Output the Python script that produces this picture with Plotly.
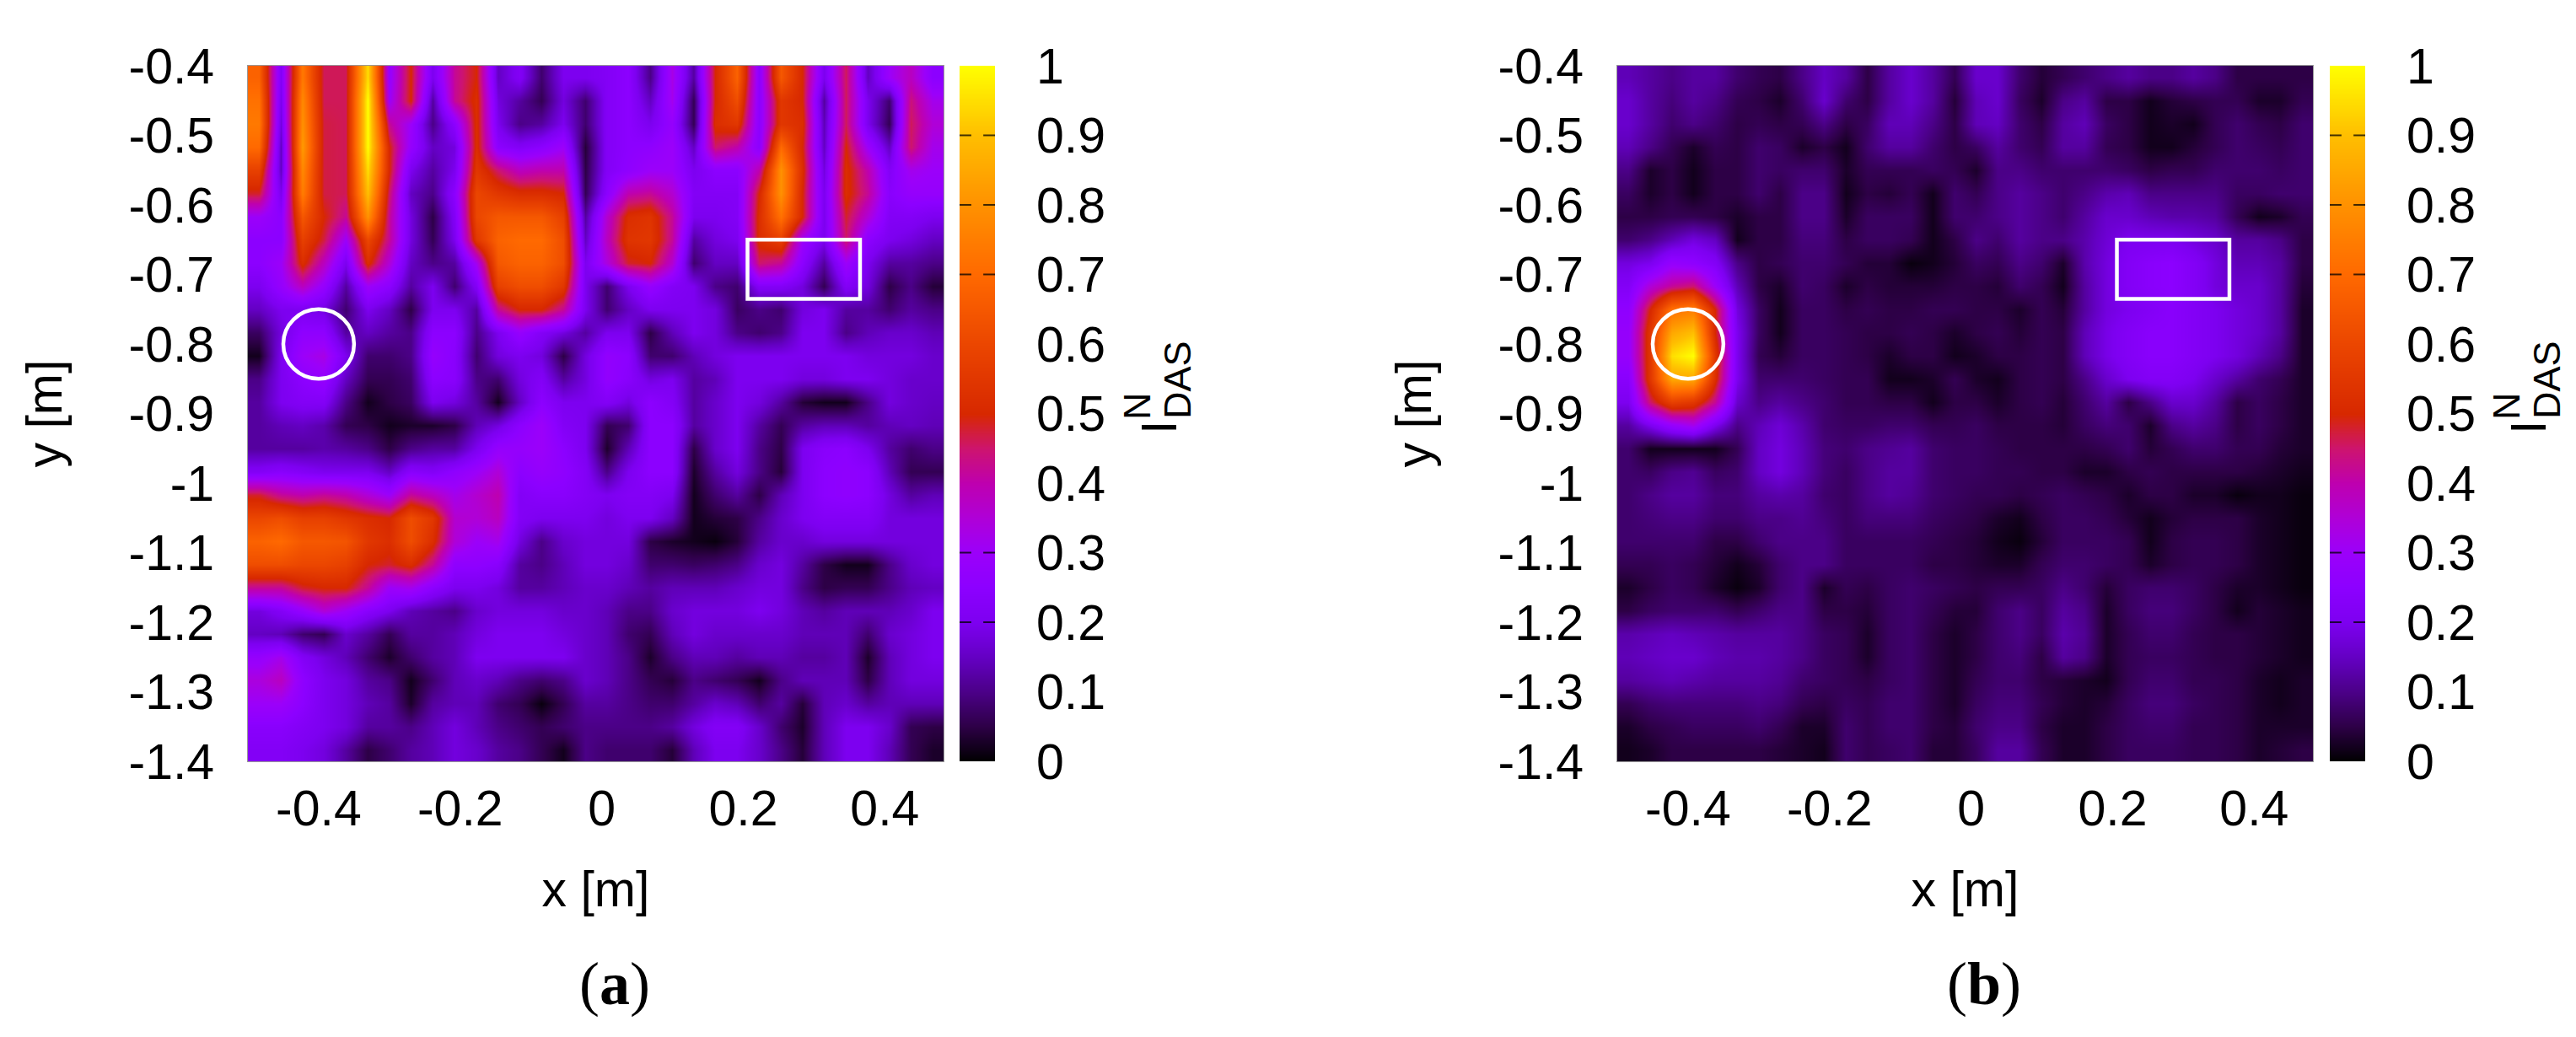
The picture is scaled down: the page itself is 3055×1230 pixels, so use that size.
import plotly.graph_objects as go

A = [
[.68,.22,.74,.46,.46,.95,.28,.5,.2,.42,.5,.15,.22,.08,.2,.2,.22,.25,.1,.33,.12,.5,.68,.25,.65,.5,.2,.46,.15,.3,.38,.25],
[.72,.2,.78,.46,.46,1,.3,.5,.12,.42,.52,.18,.12,.06,.18,.08,.22,.25,.15,.32,.06,.5,.62,.25,.55,.5,.12,.46,.2,.08,.44,.32],
[.74,.18,.8,.47,.46,1,.42,.3,.1,.25,.52,.2,.1,.12,.2,.08,.22,.25,.2,.28,.06,.52,.55,.25,.55,.52,.14,.46,.2,.06,.46,.35],
[.7,.15,.82,.47,.46,1,.5,.28,.15,.18,.52,.25,.22,.25,.3,.04,.22,.25,.26,.3,.15,.45,.4,.25,.7,.5,.15,.5,.3,.15,.45,.32],
[.58,.15,.78,.47,.46,.95,.5,.2,.12,.2,.55,.45,.38,.4,.4,.05,.22,.26,.3,.3,.2,.25,.25,.4,.8,.52,.18,.52,.4,.22,.32,.3],
[.48,.2,.75,.47,.46,.9,.45,.15,.1,.25,.6,.55,.52,.52,.5,.06,.25,.4,.42,.36,.22,.22,.22,.5,.8,.5,.2,.52,.42,.24,.28,.28],
[.3,.25,.65,.5,.42,.8,.42,.18,.05,.22,.6,.65,.65,.65,.58,.12,.36,.52,.54,.42,.2,.2,.22,.52,.72,.5,.2,.48,.35,.22,.22,.2],
[.25,.25,.58,.47,.3,.6,.42,.18,.06,.2,.55,.68,.7,.7,.62,.15,.38,.54,.55,.42,.12,.18,.2,.52,.58,.3,.2,.45,.25,.2,.18,.15],
[.25,.3,.52,.38,.2,.52,.35,.15,.1,.12,.32,.65,.68,.68,.62,.2,.34,.48,.5,.36,.08,.15,.15,.45,.42,.25,.12,.3,.2,.12,.12,.1],
[.2,.28,.38,.28,.12,.3,.25,.12,.2,.08,.22,.58,.62,.62,.55,.2,.08,.2,.28,.22,.2,.1,.08,.22,.22,.18,.06,.22,.18,.05,.1,.04],
[.15,.2,.2,.18,.08,.2,.15,.05,.2,.2,.12,.42,.5,.5,.42,.2,.08,.15,.2,.2,.2,.18,.07,.1,.08,.18,.2,.12,.12,.08,.12,.1],
[.07,.18,.26,.26,.12,.15,.12,.1,.25,.25,.1,.2,.28,.22,.18,.12,.2,.2,.05,.14,.2,.18,.1,.08,.1,.2,.2,.1,.14,.16,.16,.14],
[.02,.2,.3,.33,.2,.08,.08,.1,.28,.24,.08,.18,.2,.18,.05,.18,.27,.25,.08,.08,.14,.18,.2,.2,.2,.2,.2,.2,.18,.18,.18,.16],
[.1,.2,.25,.28,.15,.06,.06,.08,.25,.24,.1,.08,.18,.22,.12,.18,.27,.24,.18,.2,.12,.14,.2,.2,.2,.18,.18,.2,.2,.18,.16,.16],
[.12,.2,.22,.22,.1,.02,.05,.07,.2,.18,.12,.02,.15,.25,.2,.2,.22,.18,.25,.22,.12,.16,.2,.18,.12,.04,.02,.02,.1,.18,.16,.15],
[.12,.14,.15,.13,.06,.05,.02,.03,.03,.05,.14,.18,.25,.3,.22,.2,.06,.08,.25,.25,.12,.16,.2,.12,.06,.12,.14,.14,.12,.14,.15,.14],
[.12,.12,.12,.13,.12,.1,.05,.1,.12,.12,.2,.28,.28,.3,.25,.2,.03,.14,.25,.25,.05,.16,.2,.1,.05,.2,.24,.25,.2,.12,.08,.1],
[.22,.24,.22,.2,.2,.2,.15,.24,.22,.26,.3,.35,.25,.28,.26,.22,.1,.2,.25,.25,.03,.12,.18,.1,.04,.2,.25,.26,.25,.14,.06,.06],
[.48,.42,.4,.42,.4,.35,.3,.42,.38,.32,.36,.4,.22,.24,.24,.22,.2,.22,.22,.2,.02,.08,.12,.05,.14,.2,.25,.26,.25,.18,.12,.14],
[.6,.62,.58,.58,.55,.52,.5,.62,.55,.36,.35,.38,.22,.2,.2,.2,.18,.2,.2,.15,.02,.04,.05,.1,.16,.2,.22,.22,.22,.18,.18,.18],
[.68,.7,.65,.65,.64,.55,.52,.62,.52,.35,.3,.32,.18,.1,.16,.18,.18,.18,.05,.03,.02,.01,.04,.12,.16,.16,.18,.18,.18,.18,.18,.18],
[.62,.62,.6,.6,.58,.5,.48,.52,.42,.26,.26,.24,.12,.1,.14,.18,.18,.16,.08,.08,.07,.08,.1,.16,.18,.12,.05,.02,.02,.1,.16,.18],
[.42,.42,.48,.5,.5,.42,.3,.32,.25,.2,.2,.18,.12,.12,.14,.16,.16,.14,.12,.14,.14,.14,.16,.18,.18,.1,.05,.06,.06,.1,.14,.15],
[.18,.22,.28,.35,.3,.24,.2,.14,.12,.1,.16,.18,.18,.18,.16,.16,.14,.1,.1,.16,.18,.18,.18,.2,.18,.14,.12,.14,.14,.14,.16,.2],
[.15,.14,.08,.06,.16,.12,.06,.12,.12,.14,.18,.2,.2,.2,.18,.16,.14,.08,.06,.14,.18,.16,.16,.16,.16,.14,.14,.14,.08,.16,.18,.2],
[.28,.32,.22,.18,.14,.08,.03,.08,.12,.14,.2,.2,.2,.2,.2,.16,.14,.1,.03,.1,.14,.14,.12,.14,.14,.12,.12,.14,.03,.14,.18,.2],
[.34,.38,.26,.2,.18,.12,.1,.02,.08,.14,.16,.14,.1,.08,.1,.16,.14,.1,.06,.04,.1,.08,.06,.02,.1,.14,.14,.14,.05,.14,.18,.18],
[.3,.3,.25,.2,.18,.14,.12,.03,.12,.14,.14,.08,.06,.01,.06,.12,.12,.1,.08,.08,.12,.16,.14,.08,.12,.04,.14,.16,.12,.14,.14,.14],
[.24,.24,.22,.2,.18,.12,.12,.1,.14,.18,.14,.1,.08,.06,.08,.1,.1,.1,.1,.12,.18,.22,.22,.16,.08,.03,.14,.2,.2,.16,.06,.05],
[.22,.22,.2,.18,.12,.05,.08,.12,.14,.18,.16,.12,.1,.06,.02,.1,.08,.08,.08,.04,.14,.2,.2,.16,.1,.04,.14,.2,.2,.14,.06,.03],
]

B = [
[.14,.12,.1,.12,.12,.08,.06,.05,.1,.15,.12,.05,.12,.16,.12,.06,.16,.16,.08,.04,.06,.08,.1,.12,.1,.1,.12,.1,.05,.05,.05,.05],
[.16,.12,.09,.12,.1,.06,.05,.03,.08,.16,.08,.05,.12,.16,.12,.04,.14,.16,.07,.03,.1,.12,.05,.05,.02,.04,.05,.06,.06,.03,.03,.06],
[.16,.12,.08,.1,.08,.05,.06,.05,.06,.1,.05,.07,.14,.14,.1,.05,.14,.15,.08,.05,.12,.14,.07,.05,.02,.03,.02,.06,.08,.06,.05,.08],
[.14,.1,.06,.03,.06,.05,.08,.07,.03,.05,.02,.08,.12,.12,.08,.05,.07,.12,.08,.06,.12,.12,.06,.05,.02,.02,.04,.06,.08,.07,.06,.08],
[.1,.03,.05,.02,.05,.05,.08,.07,.08,.08,.03,.06,.06,.06,.07,.06,.03,.1,.1,.08,.08,.08,.08,.07,.05,.06,.06,.08,.08,.08,.07,.08],
[.07,.03,.05,.02,.05,.05,.08,.05,.1,.1,.02,.05,.04,.06,.02,.08,.06,.1,.12,.1,.08,.1,.13,.14,.1,.1,.1,.1,.07,.07,.08,.08],
[.05,.05,.06,.06,.05,.03,.05,.05,.1,.1,.03,.07,.07,.07,.02,.08,.08,.1,.12,.1,.08,.12,.16,.16,.14,.13,.13,.12,.06,.02,.03,.06],
[.08,.1,.14,.18,.15,.02,.05,.05,.09,.09,.05,.07,.07,.06,.02,.05,.1,.08,.12,.1,.1,.13,.17,.2,.2,.2,.18,.16,.12,.12,.1,.05],
[.18,.2,.28,.26,.22,.1,.05,.06,.08,.08,.06,.04,.04,.01,.02,.04,.07,.06,.1,.08,.03,.13,.18,.22,.24,.25,.22,.18,.14,.14,.12,.05],
[.22,.35,.42,.45,.3,.14,.05,.03,.08,.07,.03,.05,.04,.04,.04,.05,.05,.04,.08,.06,.02,.12,.18,.22,.24,.25,.22,.18,.16,.16,.12,.04],
[.26,.5,.72,.75,.5,.18,.07,.02,.07,.07,.05,.06,.05,.05,.06,.06,.05,.05,.03,.06,.04,.12,.18,.2,.22,.24,.22,.2,.18,.16,.12,.03],
[.28,.55,.85,.9,.5,.2,.07,.02,.07,.07,.06,.05,.05,.06,.05,.03,.05,.06,.04,.06,.05,.14,.19,.22,.24,.24,.22,.2,.18,.16,.12,.03],
[.28,.55,.95,1,.55,.2,.06,.04,.07,.07,.06,.05,.03,.05,.05,.02,.03,.05,.05,.06,.05,.14,.19,.22,.24,.24,.22,.2,.18,.14,.1,.03],
[.24,.55,.85,.85,.52,.2,.08,.08,.08,.07,.06,.06,.02,.02,.03,.06,.03,.02,.05,.06,.05,.1,.16,.2,.22,.22,.2,.16,.12,.08,.06,.03],
[.2,.45,.58,.55,.42,.16,.1,.12,.1,.08,.06,.06,.05,.05,.02,.05,.05,.03,.05,.06,.04,.08,.12,.05,.1,.16,.16,.12,.05,.07,.05,.03],
[.12,.2,.28,.32,.2,.1,.14,.17,.13,.08,.07,.07,.08,.08,.06,.06,.07,.05,.05,.05,.04,.07,.09,.08,.03,.1,.12,.1,.05,.07,.05,.03],
[.08,.02,.02,.02,.02,.06,.15,.18,.14,.09,.08,.1,.11,.12,.08,.07,.07,.06,.05,.05,.05,.05,.06,.08,.04,.06,.08,.08,.06,.06,.04,.03],
[.08,.07,.1,.11,.07,.08,.15,.18,.14,.09,.07,.1,.12,.12,.08,.07,.07,.06,.06,.05,.05,.03,.03,.05,.06,.05,.05,.05,.05,.04,.03,.02],
[.08,.1,.12,.12,.09,.09,.12,.13,.12,.08,.07,.1,.12,.11,.08,.07,.06,.06,.05,.06,.07,.06,.05,.03,.05,.05,.03,.03,.01,.02,.02,.01],
[.08,.09,.1,.1,.08,.08,.1,.1,.11,.09,.07,.09,.09,.09,.07,.06,.05,.03,.02,.05,.07,.07,.06,.04,.02,.04,.05,.05,.05,.03,.02,.01],
[.08,.08,.08,.08,.05,.05,.08,.1,.1,.1,.07,.07,.07,.07,.06,.05,.04,.02,.01,.04,.07,.07,.07,.06,.02,.05,.06,.06,.05,.03,.02,.01],
[.06,.06,.07,.06,.04,.02,.04,.08,.1,.1,.07,.07,.07,.07,.05,.05,.04,.03,.03,.06,.08,.08,.07,.06,.03,.05,.06,.06,.05,.03,.02,.01],
[.03,.05,.07,.06,.03,.01,.03,.08,.1,.03,.06,.05,.07,.08,.07,.06,.05,.06,.06,.07,.1,.08,.04,.07,.08,.08,.07,.05,.03,.03,.02,.01],
[.05,.07,.08,.08,.08,.06,.08,.1,.1,.05,.05,.04,.07,.08,.06,.04,.04,.08,.1,.07,.12,.1,.03,.07,.09,.09,.07,.05,.02,.04,.03,.02],
[.13,.14,.15,.14,.13,.12,.12,.12,.1,.07,.06,.03,.07,.08,.05,.03,.05,.08,.1,.07,.13,.11,.03,.06,.08,.08,.06,.05,.05,.04,.03,.02],
[.14,.15,.16,.16,.14,.13,.13,.12,.1,.07,.06,.03,.07,.08,.05,.03,.05,.08,.09,.05,.12,.1,.03,.06,.07,.07,.06,.05,.05,.04,.03,.02],
[.12,.13,.14,.13,.12,.12,.12,.11,.08,.07,.06,.05,.07,.08,.05,.03,.06,.08,.08,.05,.04,.03,.02,.06,.08,.08,.06,.06,.05,.03,.02,.03],
[.06,.08,.09,.09,.09,.09,.1,.09,.06,.05,.07,.06,.08,.08,.05,.03,.07,.09,.09,.06,.04,.03,.04,.07,.09,.09,.07,.06,.05,.03,.02,.03],
[.03,.05,.06,.07,.07,.07,.08,.06,.03,.03,.08,.06,.08,.08,.05,.04,.08,.1,.1,.05,.03,.03,.05,.07,.08,.08,.06,.06,.05,.03,.03,.03],
[.02,.03,.05,.05,.05,.05,.05,.04,.03,.02,.08,.06,.07,.08,.04,.04,.07,.12,.12,.06,.03,.03,.05,.07,.07,.07,.06,.06,.05,.03,.04,.05],
]

assert all(len(r) == 32 for r in A) and all(len(r) == 32 for r in B)

Y_TICKS = [-0.4, -0.5, -0.6, -0.7, -0.8, -0.9, -1, -1.1, -1.2, -1.3, -1.4]
Y_LABELS = ["-0.4", "-0.5", "-0.6", "-0.7", "-0.8", "-0.9", "-1", "-1.1", "-1.2", "-1.3", "-1.4"]
X_TICKS = [-0.4, -0.2, 0, 0.2, 0.4]
X_LABELS = ["-0.4", "-0.2", "0", "0.2", "0.4"]
CB_TICKS = [0, 0.1, 0.2, 0.3, 0.4, 0.5, 0.6, 0.7, 0.8, 0.9, 1]
CB_LABELS = ["0", "0.1", "0.2", "0.3", "0.4", "0.5", "0.6", "0.7", "0.8", "0.9", "1"]
CB_MARKED = [0.2, 0.3, 0.7, 0.8, 0.9]
CB_LEVELS = [i / 100 for i in range(101)]

CMAP = [
    [0.00, "rgb(0,0,0)"], [0.05, "rgb(45,0,70)"], [0.10, "rgb(75,0,135)"],
    [0.15, "rgb(100,0,195)"], [0.20, "rgb(125,0,240)"], [0.25, "rgb(140,0,255)"],
    [0.30, "rgb(155,0,250)"], [0.35, "rgb(175,0,215)"], [0.40, "rgb(190,0,175)"],
    [0.45, "rgb(205,20,110)"], [0.50, "rgb(215,40,0)"], [0.60, "rgb(235,70,0)"],
    [0.70, "rgb(255,105,0)"], [0.80, "rgb(255,145,0)"], [0.90, "rgb(255,190,0)"],
    [1.00, "rgb(255,255,0)"],
]

W, H = 3055, 1230
FONT = "Liberation Sans"
FS = 59
PLOT_TOP, PLOT_BOTTOM = 78, 903
PANELS = [
    dict(left=294, right=1119, cb=1138, z=A, cap="a", off=0),
    dict(left=1918, right=2743, cb=2763, z=B, cap="b", off=1624),
]
XR = [-0.5, 0.483]
YR = [-1.4, -0.4]
CIRCLE = dict(x0=-0.45, x1=-0.35, y0=-0.85, y1=-0.75)
RECT = dict(x0=0.206, x1=0.365, y0=-0.735, y1=-0.65)

fig = go.Figure()
dom_y = [1 - PLOT_BOTTOM / H, 1 - PLOT_TOP / H]
dx = (XR[1] - XR[0]) / 32
dy = (YR[1] - YR[0]) / 30
tf = dict(family=FONT, size=FS, color="#000")
layout = {}
shapes = []
annots = []


def note(text, px, py, size, family=FONT, angle=0):
    return dict(text=text, xref="paper", yref="paper", x=px / W, y=1 - py / H, xanchor="center", yanchor="middle",
                textangle=angle, showarrow=False, font=dict(family=family, size=size, color="#000"))


for i, p in enumerate(PANELS):
    k = 2 * i + 1
    sx = "" if k == 1 else str(k)
    fig.add_trace(go.Heatmap(z=p["z"], x0=XR[0] + dx / 2, dx=dx, y0=YR[1] - dy / 2, dy=-dy,
                             xaxis=f"x{sx}", yaxis=f"y{sx}", colorscale=CMAP, zmin=0, zmax=1,
                             zsmooth="best", showscale=False))
    layout[f"xaxis{sx}"] = dict(domain=[p["left"] / W, p["right"] / W], range=XR, anchor=f"y{sx}",
                                tickmode="array", tickvals=X_TICKS, ticktext=X_LABELS, ticks="",
                                showgrid=False, zeroline=False, showline=True, linecolor="#999",
                                linewidth=1, mirror=True, ticklabelstandoff=4, automargin=False,
                                tickfont=tf,
                                title=dict(text="x [m]", standoff=42, font=tf))
    layout[f"yaxis{sx}"] = dict(domain=dom_y, range=YR, anchor=f"x{sx}",
                                tickmode="array", tickvals=Y_TICKS, ticktext=Y_LABELS, ticks="",
                                showgrid=False, zeroline=False, showline=True, linecolor="#999",
                                linewidth=1, mirror=True, ticklabelstandoff=27, automargin=False,
                                tickfont=tf,
                                title=dict(text="y [m]", standoff=59, font=tf))
    shapes.append(dict(type="circle", xref=f"x{sx}", yref=f"y{sx}", line=dict(color="white", width=4.5), **CIRCLE))
    shapes.append(dict(type="rect", xref=f"x{sx}", yref=f"y{sx}", line=dict(color="white", width=4.5), **RECT))
    k2 = 2 * i + 2
    fig.add_trace(go.Heatmap(z=[[v] for v in CB_LEVELS], x=[0], y=CB_LEVELS, xaxis=f"x{k2}", yaxis=f"y{k2}",
                             colorscale=CMAP, zmin=0, zmax=1, zsmooth="best", showscale=False, hoverinfo="skip"))
    layout[f"xaxis{k2}"] = dict(domain=[p["cb"] / W, (p["cb"] + 42) / W], anchor=f"y{k2}", visible=False)
    layout[f"yaxis{k2}"] = dict(domain=dom_y, range=[0, 1], anchor=f"x{k2}", side="right",
                                tickmode="array", tickvals=CB_TICKS, ticktext=CB_LABELS, ticks="",
                                showgrid=False, zeroline=False, showline=False, ticklabelstandoff=48,
                                automargin=False, tickfont=tf)
    for v in CB_MARKED:
        for a, b in ((0, 0.33), (0.67, 1)):
            shapes.append(dict(type="line", xref=f"x{k2} domain", yref=f"y{k2}", x0=a, x1=b, y0=v, y1=v,
                               line=dict(color="rgba(0,0,0,0.75)", width=2)))
    off = p["off"]
    annots.append(note(f"(<b>{p['cap']}</b>)", 729 + off, 1167, 72, family="Liberation Serif"))
    annots.append(note("I", 1375 + off, 507, FS, angle=-90))
    annots.append(note("N", 1348 + off, 482, 45, angle=-90))
    annots.append(note("DAS", 1396 + off, 451, 45, angle=-90))

fig.update_layout(width=W, height=H, margin=dict(l=0, r=0, t=0, b=0), paper_bgcolor="white",
                  plot_bgcolor="white", showlegend=False, shapes=shapes, annotations=annots, **layout)
fig.write_html("out.html", post_script="document.body.style.margin='0';", config=dict(displayModeBar=False))
